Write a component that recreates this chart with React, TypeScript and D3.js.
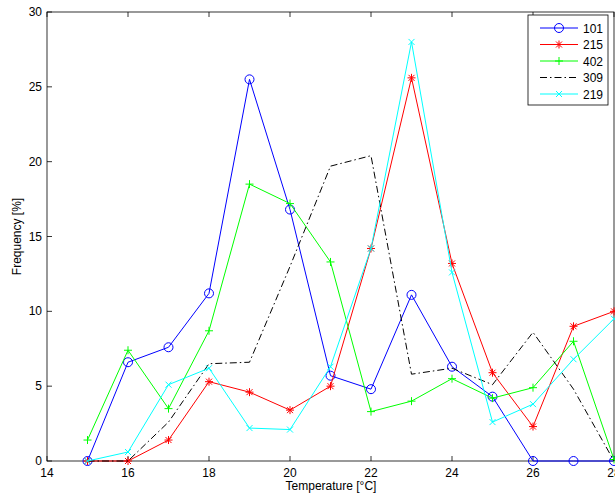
import { useEffect } from 'react';
import * as d3 from 'd3';

const temps = [15, 16, 17, 18, 19, 20, 21, 22, 23, 24, 25, 26, 27, 28];
const s101 = [0, 6.6, 7.6, 11.2, 25.5, 16.8, 5.7, 4.8, 11.1, 6.3, 4.3, 0, 0, 0];
const s215 = [0, 0, 1.4, 5.3, 4.6, 3.4, 5.0, 14.2, 25.6, 13.2, 5.9, 2.3, 9.0, 10.0];
const s402 = [1.4, 7.4, 3.5, 8.7, 18.5, 17.2, 13.3, 3.3, 4.0, 5.5, 4.2, 4.9, 8.0, 0.1];
const s309 = [0, 0, 2.6, 6.5, 6.6, 13.0, 19.7, 20.4, 5.8, 6.2, 5.1, 8.6, 4.8, 0];
const s219 = [0, 0.6, 5.1, 6.2, 2.2, 2.1, 6.3, 14.2, 28.0, 12.6, 2.6, 3.8, 6.8, 9.5];
const xTicks = [14, 16, 18, 20, 22, 24, 26, 28];
const yTicks = [0, 5, 10, 15, 20, 25, 30];

const series = [
  { name: '101', values: s101, color: '#0000ff', marker: 'o', dash: '' },
  { name: '215', values: s215, color: '#ff0000', marker: '*', dash: '' },
  { name: '402', values: s402, color: '#00ff00', marker: '+', dash: '' },
  { name: '309', values: s309, color: '#000000', marker: '', dash: '7,3,1.5,3' },
  { name: '219', values: s219, color: '#00ffff', marker: 'x', dash: '' },
];

function Marker({ type, x, y, color }: { type: string; x: number; y: number; color: string }) {
  const r = 4;
  if (type === 'o') return <circle cx={x} cy={y} r={4.5} fill="none" stroke={color} />;
  if (type === '+') return <path d={`M${x - r},${y}H${x + r}M${x},${y - r}V${y + r}`} stroke={color} />;
  if (type === 'x') return <path d={`M${x - 3},${y - 3}L${x + 3},${y + 3}M${x - 3},${y + 3}L${x + 3},${y - 3}`} stroke={color} />;
  if (type === '*')
    return (
      <path
        d={`M${x - r},${y}H${x + r}M${x},${y - r}V${y + r}M${x - 3},${y - 3}L${x + 3},${y + 3}M${x - 3},${y + 3}L${x + 3},${y - 3}`}
        stroke={color}
      />
    );
  return null;
}

export default function App() {
  useEffect(() => {
    document.body.style.margin = '0';
  }, []);
  const left = 47, top = 12, right = 614, bottom = 461;
  const x = d3.scaleLinear().domain([14, 28]).range([left, right]);
  const y = d3.scaleLinear().domain([0, 30]).range([bottom, top]);
  const line = d3.line<number>().x((_, i) => x(temps[i])).y((d) => y(d));
  const font = 'Arial, Liberation Sans, sans-serif';

  return (
    <svg width={615} height={498} style={{ display: 'block', fontFamily: font }}>
      <rect width={615} height={498} fill="#fff" />
      <rect x={left} y={top} width={right - left} height={bottom - top} fill="none" stroke="#000" strokeWidth={0.8} />
      {xTicks.map((t) => (
        <g key={t}>
          <line x1={x(t)} x2={x(t)} y1={bottom} y2={bottom - 5} stroke="#000" strokeWidth={0.8} />
          <line x1={x(t)} x2={x(t)} y1={top} y2={top + 5} stroke="#000" strokeWidth={0.8} />
          <text x={x(t)} y={bottom + 16} textAnchor="middle" fontSize={12}>{t}</text>
        </g>
      ))}
      {yTicks.map((t) => (
        <g key={t}>
          <line x1={left} x2={left + 5} y1={y(t)} y2={y(t)} stroke="#000" strokeWidth={0.8} />
          <text x={left - 5} y={y(t) + 4} textAnchor="end" fontSize={12}>{t}</text>
        </g>
      ))}
      <text x={331} y={490} textAnchor="middle" fontSize={12}>Temperature [°C]</text>
      <text transform={`translate(21,${(top + bottom) / 2}) rotate(-90)`} textAnchor="middle" fontSize={12}>Frequency [%]</text>
      {series.map((s) => (
        <g key={s.name}>
          <path d={line(s.values) || ''} fill="none" stroke={s.color} strokeWidth={1} strokeDasharray={s.dash} />
          {s.values.map((v, i) => (
            <Marker key={i} type={s.marker} x={x(temps[i])} y={y(v)} color={s.color} />
          ))}
        </g>
      ))}
      <g>
        <rect x={528} y={15} width={80} height={90} fill="#fff" stroke="#000" strokeWidth={0.8} />
        {series.map((s, i) => {
          const ly = 28 + i * 16.5;
          return (
            <g key={s.name}>
              <line x1={540} x2={578} y1={ly} y2={ly} stroke={s.color} strokeDasharray={s.dash} />
              <Marker type={s.marker} x={559} y={ly} color={s.color} />
              <text x={583} y={ly + 4.5} fontSize={12}>{s.name}</text>
            </g>
          );
        })}
      </g>
    </svg>
  );
}
